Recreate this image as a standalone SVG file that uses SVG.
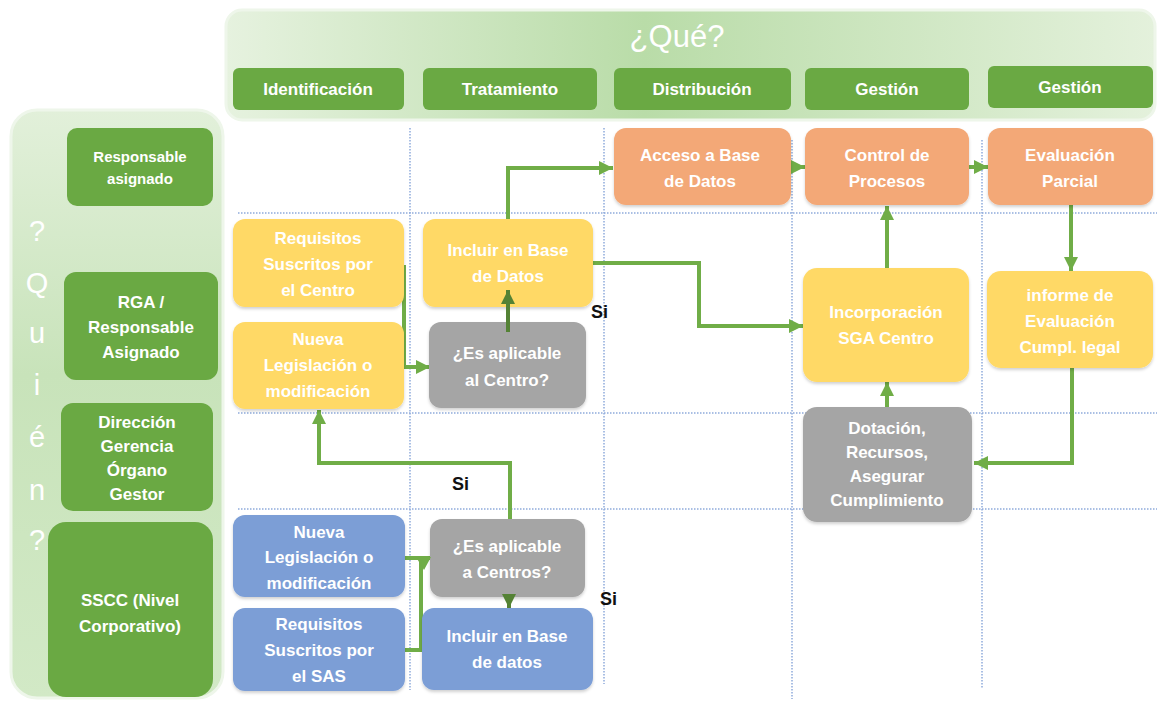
<svg xmlns="http://www.w3.org/2000/svg" width="1157" height="701" viewBox="0 0 1157 701">
<defs>
<linearGradient id="gTop" x1="0" y1="0" x2="1" y2="0">
<stop offset="0" stop-color="#e6f2df"/>
<stop offset="0.45" stop-color="#b9dca8"/>
<stop offset="1" stop-color="#e4f1dc"/>
</linearGradient>
<linearGradient id="gLeft" x1="0" y1="0" x2="0" y2="1">
<stop offset="0" stop-color="#e2f0da"/>
<stop offset="0.45" stop-color="#c8e3ba"/>
<stop offset="1" stop-color="#d2e9c6"/>
</linearGradient>
<filter id="sh" x="-10%" y="-10%" width="120%" height="125%">
<feDropShadow dx="0" dy="2" stdDeviation="1.5" flood-color="#000" flood-opacity="0.18"/>
</filter>
<marker id="ah" markerUnits="userSpaceOnUse" markerWidth="16" markerHeight="16" refX="14" refY="8" orient="auto">
<path d="M0,1 L14,8 L0,15 Z" fill="#70ad47"/>
</marker>
<marker id="ahd" markerUnits="userSpaceOnUse" markerWidth="16" markerHeight="16" refX="14" refY="8" orient="auto">
<path d="M0,1 L14,8 L0,15 Z" fill="#548235"/>
</marker>
<style>
.grid{stroke:#8eaadb;stroke-width:1.5;stroke-dasharray:1.5 1.5;fill:none}
.gbox{fill:#6aa943}
.obox{fill:#f3a877}
.ybox{fill:#ffd966}
.xbox{fill:#a5a5a5}
.bbox{fill:#7b9ed6}
.t{font-family:"Liberation Sans",Arial,sans-serif;font-weight:bold;font-size:17px;fill:#ffffff;text-anchor:middle}
.hd{font-family:"Liberation Sans",Arial,sans-serif;font-weight:bold;font-size:17px;fill:#ffffff;text-anchor:middle}
.q{font-family:"Liberation Sans",Arial,sans-serif;font-size:29px;fill:#ffffff;text-anchor:middle}
.si{font-family:"Liberation Sans",Arial,sans-serif;font-weight:bold;font-size:18px;fill:#111111}
.c{fill:none;stroke:#70ad47;stroke-width:4;marker-end:url(#ah)}
.cd{fill:none;stroke:#548235;stroke-width:4;marker-end:url(#ahd)}
.cn{fill:none;stroke:#70ad47;stroke-width:4}
</style>
</defs>
<rect width="1157" height="701" fill="#ffffff"/>

<!-- panels -->
<g id="panel-que">
<rect x="226" y="10" width="929" height="110" rx="16" fill="url(#gTop)" stroke="#eef6ea" stroke-width="3"/>
<text x="677" y="47" font-family="Liberation Sans, Arial, sans-serif" font-size="31" fill="#ffffff" text-anchor="middle">¿Qué?</text>
</g>
<g id="panel-quien">
<rect x="11" y="110" width="212" height="588" rx="26" fill="url(#gLeft)" stroke="#eef6ea" stroke-width="3"/>
<text class="q" x="37" y="241">?</text>
<text class="q" x="37" y="293">Q</text>
<text class="q" x="37" y="343">u</text>
<text class="q" x="37" y="395">i</text>
<text class="q" x="37" y="447">é</text>
<text class="q" x="37" y="500">n</text>
<text class="q" x="37" y="550">?</text>
</g>

<!-- grid -->
<g id="grid">
<line class="grid" x1="238" y1="213" x2="1157" y2="213"/>
<line class="grid" x1="238" y1="413" x2="1157" y2="413"/>
<line class="grid" x1="238" y1="509" x2="1157" y2="509"/>
<line class="grid" x1="410" y1="128" x2="410" y2="690"/>
<line class="grid" x1="604" y1="128" x2="604" y2="684"/>
<line class="grid" x1="792" y1="140" x2="792" y2="699"/>
<line class="grid" x1="982" y1="140" x2="982" y2="688"/>
</g>

<!-- headers -->
<g id="h-identificacion"><rect class="gbox" x="233" y="68" width="171" height="42" rx="6"/><text class="hd" x="318" y="95">Identificación</text></g>
<g id="h-tratamiento"><rect class="gbox" x="423" y="68" width="174" height="42" rx="6"/><text class="hd" x="510" y="95">Tratamiento</text></g>
<g id="h-distribucion"><rect class="gbox" x="614" y="68" width="177" height="42" rx="6"/><text class="hd" x="702" y="95">Distribución</text></g>
<g id="h-gestion1"><rect class="gbox" x="805" y="68" width="164" height="42" rx="6"/><text class="hd" x="887" y="95">Gestión</text></g>
<g id="h-gestion2"><rect class="gbox" x="988" y="66" width="165" height="42" rx="6"/><text class="hd" x="1070" y="93">Gestión</text></g>

<!-- roles -->
<g id="r-responsable"><rect class="gbox" x="67" y="128" width="146" height="78" rx="10"/>
<text class="t" x="140" y="162" style="font-size:15px">Responsable</text><text class="t" x="140" y="184" style="font-size:15px">asignado</text></g>
<g id="r-rga"><rect class="gbox" x="64" y="272" width="154" height="108" rx="12"/>
<text class="t" x="141" y="308">RGA /</text><text class="t" x="141" y="333">Responsable</text><text class="t" x="141" y="358">Asignado</text></g>
<g id="r-direccion"><rect class="gbox" x="61" y="403" width="152" height="108" rx="12"/>
<text class="t" x="137" y="428">Dirección</text><text class="t" x="137" y="452">Gerencia</text><text class="t" x="137" y="476">Órgano</text><text class="t" x="137" y="500">Gestor</text></g>
<g id="r-sscc"><rect class="gbox" x="48" y="522" width="165" height="175" rx="18"/>
<text class="t" x="130" y="606">SSCC (Nivel</text><text class="t" x="130" y="632">Corporativo)</text></g>

<!-- connectors -->
<g id="connectors">
<path class="c" d="M508,219 V168 H613"/>
<path class="c" d="M792,167 H805"/>
<path class="c" d="M969,167 H988"/>
<path class="c" d="M1071,205 V271"/>
<path class="c" d="M1072,368 V463 H974"/>
<path class="c" d="M887,407 V382"/>
<path class="c" d="M887,268 V206"/>
<path class="c" d="M593,263 H699 V326 H803"/>
<path class="c" d="M404,265 V367 H430"/>
<path class="c" d="M510,520 V463 H319 V410"/>
<path class="cn" d="M405,558 H430"/>
<path class="cn" d="M405,650 H421 V558"/>
</g>

<!-- orange -->
<g id="n-acceso"><rect class="obox" x="614" y="128" width="177" height="77" rx="12" filter="url(#sh)"/>
<text class="t" x="700" y="161">Acceso a Base</text><text class="t" x="700" y="187">de Datos</text></g>
<g id="n-control"><rect class="obox" x="805" y="128" width="164" height="77" rx="12" filter="url(#sh)"/>
<text class="t" x="887" y="161">Control de</text><text class="t" x="887" y="187">Procesos</text></g>
<g id="n-evaluacion"><rect class="obox" x="988" y="128" width="165" height="77" rx="12" filter="url(#sh)"/>
<text class="t" x="1070" y="161">Evaluación</text><text class="t" x="1070" y="187">Parcial</text></g>

<!-- yellow -->
<g id="n-req-centro"><rect class="ybox" x="233" y="219" width="171" height="88" rx="12" filter="url(#sh)"/>
<text class="t" x="318" y="244">Requisitos</text><text class="t" x="318" y="270">Suscritos por</text><text class="t" x="318" y="296">el Centro</text></g>
<g id="n-nueva-centro"><rect class="ybox" x="233" y="322" width="171" height="87" rx="12" filter="url(#sh)"/>
<text class="t" x="318" y="345">Nueva</text><text class="t" x="318" y="371">Legislación o</text><text class="t" x="318" y="397">modificación</text></g>
<g id="n-incluir-centro"><rect class="ybox" x="423" y="219" width="170" height="88" rx="12" filter="url(#sh)"/>
<text class="t" x="508" y="256">Incluir en Base</text><text class="t" x="508" y="282">de Datos</text></g>
<g id="n-incorporacion"><rect class="ybox" x="803" y="268" width="166" height="114" rx="14" filter="url(#sh)"/>
<text class="t" x="886" y="318">Incorporación</text><text class="t" x="886" y="344">SGA Centro</text></g>
<g id="n-informe"><rect class="ybox" x="987" y="271" width="166" height="97" rx="14" filter="url(#sh)"/>
<text class="t" x="1070" y="301">informe de</text><text class="t" x="1070" y="327">Evaluación</text><text class="t" x="1070" y="353">Cumpl. legal</text></g>

<!-- gray -->
<g id="n-aplicable-centro"><rect class="xbox" x="429" y="322" width="157" height="86" rx="12" filter="url(#sh)"/>
<text class="t" x="507" y="359">¿Es aplicable</text><text class="t" x="507" y="386">al Centro?</text></g>
<g id="n-dotacion"><rect class="xbox" x="803" y="407" width="169" height="115" rx="14" filter="url(#sh)"/>
<text class="t" x="887" y="434">Dotación,</text><text class="t" x="887" y="458">Recursos,</text><text class="t" x="887" y="482">Asegurar</text><text class="t" x="887" y="506">Cumplimiento</text></g>
<g id="n-aplicable-centros"><rect class="xbox" x="430" y="519" width="155" height="78" rx="12" filter="url(#sh)"/>
<text class="t" x="507" y="552">¿Es aplicable</text><text class="t" x="507" y="578">a Centros?</text></g>

<!-- blue -->
<g id="n-nueva-sas"><rect class="bbox" x="233" y="515" width="172" height="82" rx="12" filter="url(#sh)"/>
<text class="t" x="319" y="538">Nueva</text><text class="t" x="319" y="563">Legislación o</text><text class="t" x="319" y="589">modificación</text></g>
<g id="n-req-sas"><rect class="bbox" x="233" y="608" width="172" height="83" rx="12" filter="url(#sh)"/>
<text class="t" x="319" y="630">Requisitos</text><text class="t" x="319" y="656">Suscritos por</text><text class="t" x="319" y="682">el SAS</text></g>
<g id="n-incluir-sas"><rect class="bbox" x="422" y="608" width="171" height="82" rx="12" filter="url(#sh)"/>
<text class="t" x="507" y="642">Incluir en Base</text><text class="t" x="507" y="668">de datos</text></g>

<!-- overlay arrows -->
<g id="connectors-over">
<path class="cd" d="M508,332 V290"/>
<path class="cd" d="M509,597 V608"/>
<polygon points="416,557 431,557 424,570" fill="#70ad47"/>
</g>

<g id="labels">
<text class="si" x="591" y="318">Si</text>
<text class="si" x="452" y="490">Si</text>
<text class="si" x="600" y="605">Si</text>
</g>
</svg>
